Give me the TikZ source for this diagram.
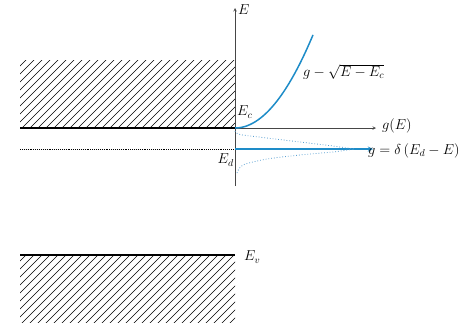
\documentclass[tikz,border=0pt]{standalone}
\usepackage{amsmath, amssymb}
\usepackage{tikz}
\definecolor{curveblue}{RGB}{30,140,200}
\definecolor{tailblue}{RGB}{90,160,210}
\definecolor{axisgray}{RGB}{70,70,70}
\begin{document}
\begin{tikzpicture}[x=1pt, y=-1pt, >=stealth, font=\fontsize{14.5}{16}\selectfont]
\useasboundingbox (0,0) rectangle (465,322);

% bands
\begin{scope}
\clip (20,60) rectangle (235,128);
\foreach \s in {-100,-92,...,260} \draw[line width=0.5pt] (\s,130) -- (\s+75,55);
\end{scope}
\begin{scope}
\clip (20,255) rectangle (235,322);
\foreach \s in {-100,-92,...,260} \draw[line width=0.5pt] (\s,325) -- (\s+75,250);
\end{scope}

\coordinate (O) at (235,128);
\coordinate (Etop) at (235,8);
\coordinate (Ebot) at (235,186);
\coordinate (gend) at (376,128);
\coordinate (Dl) at (20,149);
\coordinate (Dm) at (235,149);
\coordinate (Dr) at (373,149);

\draw[line width=1.4pt] (20,128) -- (O);
\draw[line width=1.4pt] (20,255) -- (235,255) coordinate (Ev);
\draw[line width=0.9pt, densely dotted] (Dl) -- (Dm);

% axes
\draw[axisgray, line width=0.6pt, ->] (Ebot) -- (Etop);
\draw[axisgray, line width=0.6pt, ->] (O) -- (gend);

% densities
\draw[curveblue, line width=1.5pt] plot[domain=0:78, samples=40] ({235+\x},{128-0.0153*\x*\x});
\draw[curveblue, line width=1.3pt, ->] (Dm) -- (Dr);
\draw[tailblue, line width=0.8pt, dotted] plot[smooth] coordinates {(235,131) (240,134.5) (267,138) (300,142) (333,146) (354,149)};
\draw[tailblue, line width=0.8pt, dotted] plot[smooth] coordinates {(237,173) (243,165) (267,159) (300,155) (333,152) (354,149)};

% labels
\node[right, inner sep=2pt] (lE) at (236,10) {$E$};
\node[right, inner sep=1pt] (lEc) at (236,112) {$E_c$};
\node[left, inner sep=1pt] (lEd) at (235,160) {$E_d$};
\node[right, inner sep=1pt] (lEv) at (243,257) {$E_v$};
\node[right, inner sep=1pt] (lgE) at (381,126) {$g(E)$};
\node[right, inner sep=1pt] (lsqrt) at (302,72) {$g - \sqrt{E-E_c}$};
\node[right, inner sep=1pt] (ldelta) at (367,151) {$g = \delta\,(E_d - E)$};

\end{tikzpicture}
\end{document}
